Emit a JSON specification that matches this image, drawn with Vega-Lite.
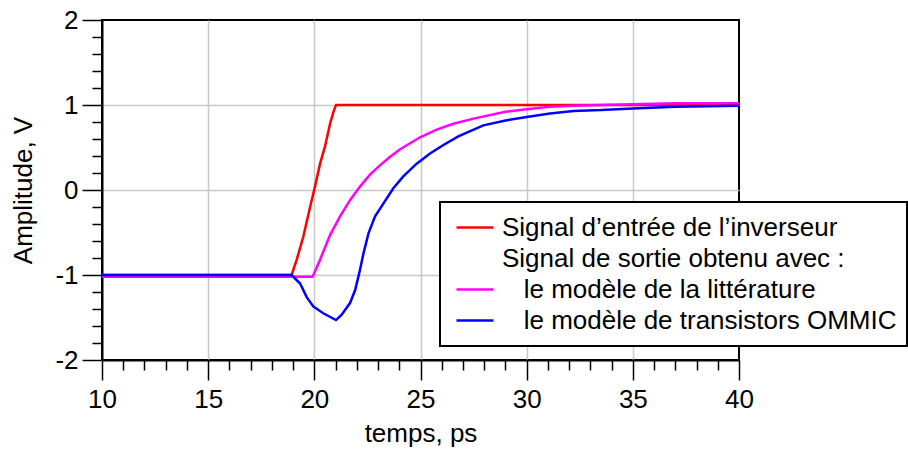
{
  "$schema": "https://vega.github.io/schema/vega-lite/v6.json",
  "width": 637,
  "height": 340,
  "autosize": {"type": "none"},
  "padding": {"left": 102, "top": 20, "right": 169, "bottom": 92},
  "background": "white",
  "config": {
    "font": "Liberation Sans",
    "view": {"stroke": "black", "strokeWidth": 2},
    "axis": {
      "domainColor": "black",
      "domainWidth": 2,
      "tickColor": "black",
      "tickWidth": 1.5,
      "gridColor": "#c8c8c8",
      "gridWidth": 1.5,
      "labelFont": "Liberation Sans",
      "titleFont": "Liberation Sans",
      "labelFontSize": 26,
      "titleFontSize": 26,
      "titleFontWeight": "normal",
      "labelColor": "black",
      "titleColor": "black",
      "labelOverlap": false,
      "labelFlush": false
    },
    "legend": {"strokeWidth": 2}
  },
  "data": {
    "values": [
      {"t": 10, "v": -1, "s": "in"},
      {"t": 18.93, "v": -1, "s": "in"},
      {"t": 19.17, "v": -0.82, "s": "in"},
      {"t": 19.48, "v": -0.55, "s": "in"},
      {"t": 19.8, "v": -0.2, "s": "in"},
      {"t": 20.03, "v": 0.04, "s": "in"},
      {"t": 20.27, "v": 0.31, "s": "in"},
      {"t": 20.5, "v": 0.51, "s": "in"},
      {"t": 20.74, "v": 0.78, "s": "in"},
      {"t": 20.9, "v": 0.92, "s": "in"},
      {"t": 21.02, "v": 1, "s": "in"},
      {"t": 40, "v": 1, "s": "in"},
      {"t": 10, "v": -1.02, "s": "lit"},
      {"t": 19.92, "v": -1.02, "s": "lit"},
      {"t": 20.27, "v": -0.82, "s": "lit"},
      {"t": 20.74, "v": -0.53, "s": "lit"},
      {"t": 21.21, "v": -0.31, "s": "lit"},
      {"t": 21.68, "v": -0.12, "s": "lit"},
      {"t": 22.15, "v": 0.04, "s": "lit"},
      {"t": 22.62, "v": 0.18, "s": "lit"},
      {"t": 23.09, "v": 0.29, "s": "lit"},
      {"t": 23.57, "v": 0.39, "s": "lit"},
      {"t": 24.04, "v": 0.48, "s": "lit"},
      {"t": 24.51, "v": 0.55, "s": "lit"},
      {"t": 24.98, "v": 0.62, "s": "lit"},
      {"t": 25.76, "v": 0.71, "s": "lit"},
      {"t": 26.55, "v": 0.78, "s": "lit"},
      {"t": 27.5, "v": 0.84, "s": "lit"},
      {"t": 29, "v": 0.92, "s": "lit"},
      {"t": 30, "v": 0.95, "s": "lit"},
      {"t": 31.1, "v": 0.98, "s": "lit"},
      {"t": 32.2, "v": 0.99, "s": "lit"},
      {"t": 33.5, "v": 1.0, "s": "lit"},
      {"t": 35, "v": 1.01, "s": "lit"},
      {"t": 37, "v": 1.02, "s": "lit"},
      {"t": 40, "v": 1.02, "s": "lit"},
      {"t": 10, "v": -1.0, "s": "ommic"},
      {"t": 18.93, "v": -1.0, "s": "ommic"},
      {"t": 19.33, "v": -1.1, "s": "ommic"},
      {"t": 19.64, "v": -1.26, "s": "ommic"},
      {"t": 19.95, "v": -1.37, "s": "ommic"},
      {"t": 20.42, "v": -1.45, "s": "ommic"},
      {"t": 21.02, "v": -1.53, "s": "ommic"},
      {"t": 21.28, "v": -1.47, "s": "ommic"},
      {"t": 21.68, "v": -1.33, "s": "ommic"},
      {"t": 21.92, "v": -1.18, "s": "ommic"},
      {"t": 22.15, "v": -0.94, "s": "ommic"},
      {"t": 22.31, "v": -0.75, "s": "ommic"},
      {"t": 22.55, "v": -0.51, "s": "ommic"},
      {"t": 22.86, "v": -0.31, "s": "ommic"},
      {"t": 23.25, "v": -0.16, "s": "ommic"},
      {"t": 23.72, "v": 0.02, "s": "ommic"},
      {"t": 24.19, "v": 0.16, "s": "ommic"},
      {"t": 24.82, "v": 0.31, "s": "ommic"},
      {"t": 25.45, "v": 0.43, "s": "ommic"},
      {"t": 26.08, "v": 0.53, "s": "ommic"},
      {"t": 26.78, "v": 0.63, "s": "ommic"},
      {"t": 27.96, "v": 0.76, "s": "ommic"},
      {"t": 29.06, "v": 0.82, "s": "ommic"},
      {"t": 30, "v": 0.86, "s": "ommic"},
      {"t": 31.1, "v": 0.9, "s": "ommic"},
      {"t": 32.2, "v": 0.93, "s": "ommic"},
      {"t": 33.5, "v": 0.94, "s": "ommic"},
      {"t": 35, "v": 0.96, "s": "ommic"},
      {"t": 37, "v": 0.98, "s": "ommic"},
      {"t": 40, "v": 0.99, "s": "ommic"}
    ]
  },
  "mark": {"type": "line", "strokeWidth": 2.5, "clip": true},
  "encoding": {
    "x": {
      "field": "t",
      "type": "quantitative",
      "scale": {"domain": [10, 40], "nice": false, "zero": false},
      "axis": {
        "title": "temps, ps",
        "values": [10,11,12,13,14,15,16,17,18,19,20,21,22,23,24,25,26,27,28,29,30,31,32,33,34,35,36,37,38,39,40],
        "tickSize": {"condition": {"test": "datum.value % 5 === 0", "value": 20}, "value": 10},
        "gridOpacity": {"condition": {"test": "datum.value % 5 === 0 && datum.value > 10 && datum.value < 40", "value": 1}, "value": 0},
        "labelExpr": "datum.value % 5 === 0 ? datum.label : ''",
        "labelPadding": 6,
        "titlePadding": 8
      }
    },
    "y": {
      "field": "v",
      "type": "quantitative",
      "scale": {"domain": [-2, 2], "nice": false, "zero": false},
      "axis": {
        "title": "Amplitude, V",
        "values": [-2,-1.8,-1.6,-1.4,-1.2,-1,-0.8,-0.6,-0.4,-0.2,0,0.2,0.4,0.6,0.8,1,1.2,1.4,1.6,1.8,2],
        "tickSize": {"condition": {"test": "abs(datum.value - round(datum.value)) < 0.01", "value": 20}, "value": 10},
        "gridOpacity": {"condition": {"test": "abs(datum.value - round(datum.value)) < 0.01 && datum.value > -1.99 && datum.value < 1.99", "value": 1}, "value": 0},
        "labelExpr": "abs(datum.value - round(datum.value)) < 0.01 ? toString(round(datum.value)) : ''",
        "labelPadding": 4,
        "titlePadding": 18
      }
    },
    "color": {
      "field": "s",
      "type": "nominal",
      "scale": {"domain": ["in", "hdr", "lit", "ommic"], "range": ["#ff0000", "transparent", "#ff00ff", "#0000ff"]},
      "legend": {
        "orient": "none",
        "legendX": 338,
        "legendY": 182,
        "title": null,
        "strokeColor": "black",
        "fillColor": "white",
        "padding": 10,
        "symbolOffset": 5,
        "symbolType": "stroke",
        "symbolSize": 1369,
        "symbolStrokeWidth": 2.5,
        "labelFontSize": 26,
        "labelFont": "Liberation Sans",
        "labelColor": "black",
        "labelLimit": 700,
        "labelOffset": 7,
        "rowPadding": 0,
        "clipHeight": 31,
        "labelExpr": "datum.value == 'in' ? 'Signal d’entrée de l’inverseur' : datum.value == 'hdr' ? 'Signal de sortie obtenu avec :' : datum.value == 'lit' ? '\u200b\u00a0\u00a0\u00a0le modèle de la littérature' : '\u200b\u00a0\u00a0\u00a0le modèle de transistors OMMIC'"
      }
    }
  }
}
